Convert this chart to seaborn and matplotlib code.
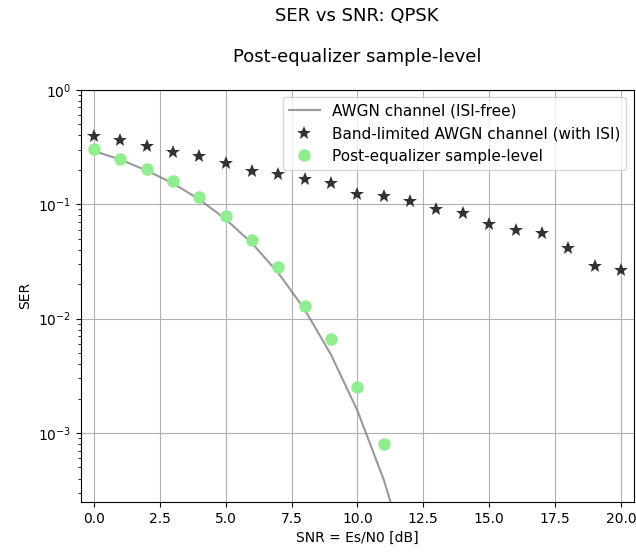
import matplotlib
matplotlib.use("Agg")
import matplotlib.pyplot as plt
import seaborn as sns
import pandas as pd

# SNR grid (Es/N0 in dB)
snr_db = [0, 1, 2, 3, 4, 5, 6, 7, 8, 9, 10, 11, 12, 13, 14, 15, 16, 17, 18, 19, 20]

# Theoretical QPSK symbol error rate over an ISI-free AWGN channel
ser_awgn = [0.292, 0.245, 0.197, 0.152, 0.110, 0.0739, 0.0455, 0.0250, 0.0120,
            0.00482, 0.00157, 3.9e-4, 6.9e-5, 7.9e-6, 5.4e-7, 1.9e-8, 2.8e-10,
            1.5e-12, 2.0e-15, 5.0e-19, 1.5e-23]

# Simulated SER on the band-limited channel (with ISI), no equalization
ser_isi = [0.395, 0.363, 0.324, 0.287, 0.265, 0.227, 0.196, 0.183, 0.165, 0.152,
           0.123, 0.118, 0.107, 0.0902, 0.0843, 0.0668, 0.0596, 0.0565, 0.0418,
           0.0291, 0.0267]

# Simulated SER after the equalizer (sample level); no errors counted beyond 11 dB
snr_eq = [0, 1, 2, 3, 4, 5, 6, 7, 8, 9, 10, 11]
ser_eq = [0.303, 0.246, 0.203, 0.159, 0.116, 0.0794, 0.0488, 0.0280, 0.0128,
          0.00664, 0.00253, 0.00081]

df_awgn = pd.DataFrame({"snr": snr_db, "ser": ser_awgn})
df_isi = pd.DataFrame({"snr": snr_db, "ser": ser_isi})
df_eq = pd.DataFrame({"snr": snr_eq, "ser": ser_eq})

fig, ax = plt.subplots(figsize=(6.36, 5.54), dpi=100)
fig.subplots_adjust(left=0.127, right=0.997, top=0.838, bottom=0.094)
ax.set_yscale("log")

sns.lineplot(data=df_awgn, x="snr", y="ser", ax=ax, color="gray", alpha=0.8,
             linewidth=1.5, label="AWGN channel (ISI-free)")
sns.lineplot(data=df_isi, x="snr", y="ser", ax=ax, color="#333333",
             linestyle="none", marker="*", markersize=10, markeredgewidth=0,
             label="Band-limited AWGN channel (with ISI)")
sns.lineplot(data=df_eq, x="snr", y="ser", ax=ax, color="lightgreen",
             linestyle="none", marker="o", markersize=9, markeredgewidth=0,
             label="Post-equalizer sample-level")

ax.set_xlim(-0.5, 20.5)
ax.set_ylim(2.5e-4, 1)
ax.grid(True, which="major")
ax.set_xlabel("SNR = Es/N0 [dB]")
ax.set_ylabel("SER")
ax.set_title("Post-equalizer sample-level", pad=20, fontsize=13)
fig.suptitle("SER vs SNR: QPSK", x=0.561, y=0.988, fontsize=13)
ax.legend(loc="upper right", fontsize=11)

fig.savefig("out.png", dpi=100)
